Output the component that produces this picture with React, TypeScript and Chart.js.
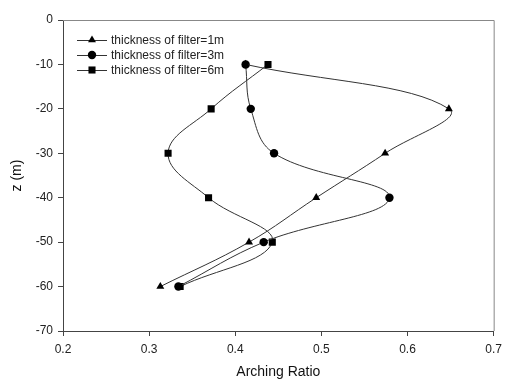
import React, { useEffect, useRef } from 'react';
import { Chart, registerables } from 'chart.js';

Chart.register(...registerables);

const depths = [-10, -20, -30, -40, -50, -60];
const ratio1m = [0.412, 0.648, 0.574, 0.494, 0.416, 0.313];
const ratio3m = [0.412, 0.418, 0.445, 0.579, 0.433, 0.334];
const ratio6m = [0.438, 0.372, 0.322, 0.369, 0.443, 0.336];
const seriesLabels = ['thickness of filter=1m', 'thickness of filter=3m', 'thickness of filter=6m'];
const seriesStyles = ['triangle', 'circle', 'rect'];
const seriesRadii = [4.6, 4.2, 5];
const xTitle = 'Arching Ratio';
const yTitle = 'z (m)';

const FONT = '"Liberation Sans", Arial, sans-serif';

function drawMarker(ctx: CanvasRenderingContext2D, style: string, x: number, y: number, r: number) {
  ctx.beginPath();
  if (style === 'triangle') {
    ctx.moveTo(x, y - r);
    ctx.lineTo(x + r * Math.sin(Math.PI * 2 / 3), y - r * Math.cos(Math.PI * 2 / 3));
    ctx.lineTo(x + r * Math.sin(Math.PI * 4 / 3), y - r * Math.cos(Math.PI * 4 / 3));
    ctx.closePath();
  } else if (style === 'circle') {
    ctx.arc(x, y, r, 0, Math.PI * 2);
  } else {
    const s = Math.SQRT1_2 * r;
    ctx.rect(x - s, y - s, 2 * s, 2 * s);
  }
  ctx.fill();
}

const framePlugin = {
  id: 'frameAndLegend',
  afterDraw(chart: any) {
    const { ctx, chartArea } = chart;
    ctx.save();
    ctx.strokeStyle = '#888';
    ctx.lineWidth = 1;
    ctx.beginPath();
    ctx.moveTo(chartArea.left, chartArea.top + 0.5);
    ctx.lineTo(chartArea.right + 0.5, chartArea.top + 0.5);
    ctx.lineTo(chartArea.right + 0.5, chartArea.bottom);
    ctx.stroke();

    // legend
    const lx0 = chartArea.left + 14;
    const lx1 = chartArea.left + 44;
    const rows = [40, 55, 70];
    ctx.font = `12px ${FONT}`;
    ctx.textBaseline = 'middle';
    ctx.textAlign = 'left';
    for (let i = 0; i < seriesLabels.length; i++) {
      const y = rows[i];
      ctx.strokeStyle = '#333';
      ctx.beginPath();
      ctx.moveTo(lx0, y + 0.5);
      ctx.lineTo(lx1, y + 0.5);
      ctx.stroke();
      ctx.fillStyle = '#000';
      drawMarker(ctx, seriesStyles[i], (lx0 + lx1) / 2, y, seriesRadii[i]);
      ctx.fillStyle = '#222';
      ctx.fillText(seriesLabels[i], lx1 + 4, y + 1);
    }
    ctx.restore();
  },
};

export default function App() {
  const ref = useRef<HTMLCanvasElement>(null);
  useEffect(() => {
    const all = [ratio1m, ratio3m, ratio6m];
    const datasets = all.map((arr, i) => ({
      label: seriesLabels[i],
      data: arr.map((v, j) => ({ x: v, y: depths[j] })),
      borderColor: '#333',
      borderWidth: 1,
      backgroundColor: '#000',
      pointBackgroundColor: '#000',
      pointBorderColor: '#000',
      pointBorderWidth: 0,
      pointStyle: seriesStyles[i],
      pointRadius: seriesRadii[i],
      tension: 0.4,
      fill: false,
    }));
    const chart = new Chart(ref.current as HTMLCanvasElement, {
      type: 'line',
      data: { datasets },
      plugins: [framePlugin],
      options: {
        animation: false,
        responsive: false,
        devicePixelRatio: 1,
        layout: { padding: { top: 20, right: 8, left: 0, bottom: 0 } },
        plugins: { legend: { display: false }, tooltip: { enabled: false } },
        scales: {
          x: {
            type: 'linear',
            min: 0.2,
            max: 0.7,
            ticks: {
              stepSize: 0.1,
              color: '#222',
              font: { size: 12, family: FONT },
              padding: 6,
              callback: (v: any) => Number(v).toFixed(1),
            },
            grid: { drawOnChartArea: false, tickLength: 5, color: '#444' },
            border: { display: true, color: '#444', width: 1 },
            title: { display: true, text: xTitle, color: '#111', font: { size: 14, family: FONT }, padding: 0 },
            afterFit: (s: any) => { s.height = 50; },
          },
          y: {
            type: 'linear',
            min: -70,
            max: 0,
            ticks: {
              stepSize: 10,
              color: '#222',
              font: { size: 12, family: FONT },
              padding: 5,
            },
            grid: { drawOnChartArea: false, tickLength: 5, color: '#444' },
            border: { display: true, color: '#444', width: 1 },
            title: { display: true, text: yTitle, color: '#111', font: { size: 14, family: FONT }, padding: 9 },
            afterFit: (s: any) => { s.width = 63; },
          },
        },
      },
    } as any);
    return () => chart.destroy();
  }, []);
  return (
    <div style={{ position: 'fixed', left: 0, top: 0, width: 508, height: 381, background: '#fff' }}>
      <canvas ref={ref} width={508} height={381} style={{ width: 508, height: 381 }} />
    </div>
  );
}
